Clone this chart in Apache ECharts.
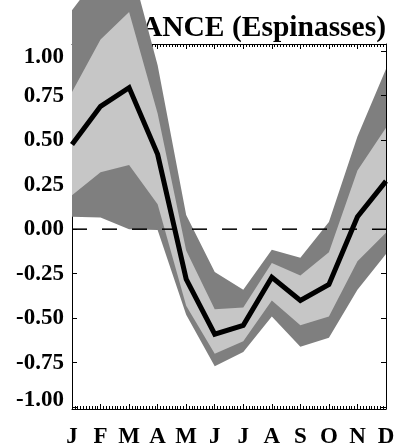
<!DOCTYPE html>
<html>
<head>
<meta charset="utf-8">
<script src="https://cdn.jsdelivr.net/npm/echarts@6/dist/echarts.min.js"></script>
<style>
html,body{margin:0;padding:0;background:#fff;}
#chart{width:396px;height:446px;}
</style>
</head>
<body>
<div id="chart"></div>
<script>
const months = ['J','F','M','A','M','J','J','A','S','O','N','D'];
const meanLine   = [0.475, 0.69, 0.795, 0.42, -0.28, -0.59, -0.54, -0.27, -0.40, -0.31, 0.07, 0.27];
const upperDark  = [1.23, 1.44, 1.52, 0.92, 0.08, -0.24, -0.34, -0.115, -0.16, 0.04, 0.52, 0.90];
const upperLight = [0.77, 1.065, 1.22, 0.65, -0.12, -0.45, -0.44, -0.19, -0.26, -0.13, 0.33, 0.57];
const lowerLight = [0.19, 0.32, 0.36, 0.14, -0.43, -0.70, -0.63, -0.40, -0.54, -0.49, -0.18, -0.02];
const lowerDark  = [0.07, 0.065, 0.0, -0.005, -0.48, -0.77, -0.69, -0.49, -0.66, -0.61, -0.34, -0.14];
const yTicks = [-1, -0.75, -0.5, -0.25, 0, 0.25, 0.5, 0.75, 1];

const FONT = 'Liberation Serif';
const DARK = '#7f7f7f';
const LIGHT = '#c6c6c6';
const labelFont = { fontFamily: FONT, fontWeight: 'bold', fontSize: 23, color: '#000' };

const pts = arr => arr.map((v, i) => [i, v]);

// Band polygon between two boundary arrays, drawn through the axis scales
function bandSeries(name, lo, hi, color, z) {
  return {
    name: name, type: 'custom', clip: false, z: z, silent: true,
    data: lo.map((v, i) => [i, v, hi[i]]),
    renderItem: function (params, api) {
      if (params.dataIndexInside !== 0) return null;
      const n = params.dataInsideLength;
      const top = [], bot = [];
      for (let j = 0; j < n; j++) {
        const x = api.value(0, j);
        bot.push(api.coord([x, api.value(1, j)]));
        top.push(api.coord([x, api.value(2, j)]));
      }
      return {
        type: 'polygon',
        shape: { points: top.concat(bot.reverse()) },
        style: { fill: color, stroke: null }
      };
    }
  };
}

const axisCommon = {
  axisLine: { show: true, onZero: false, lineStyle: { color: '#000', width: 1 } },
  splitLine: { show: false }
};

const chart = echarts.init(document.getElementById('chart'), null, { renderer: 'canvas' });
chart.setOption({
  animation: false,
  backgroundColor: '#fff',
  title: {
    text: 'FRANCE (Espinasses)', right: 10, top: 13, padding: 0, z: 1,
    textStyle: { fontFamily: FONT, fontWeight: 'bold', fontSize: 29.5, color: '#000' }
  },
  grid: { left: 72, right: 10, top: 44, bottom: 37, containLabel: false, outerBoundsMode: 'none' },
  xAxis: [Object.assign({
    type: 'value', min: 0, max: 11, interval: 1, position: 'bottom',
    axisTick: { show: true, inside: true, length: 5, lineStyle: { color: '#000' } },
    minorTick: { show: true, splitNumber: 10, length: 3, lineStyle: { color: '#000' } },
    axisLabel: Object.assign({ margin: 17, formatter: v => months[Math.round(v)] || '' }, labelFont)
  }, axisCommon), Object.assign({
    type: 'value', min: 0, max: 11, interval: 1, position: 'top',
    axisTick: { show: true, inside: true, length: 5, lineStyle: { color: '#000' } },
    minorTick: { show: true, splitNumber: 10, length: 3, lineStyle: { color: '#000' } },
    axisLabel: { show: false }
  }, axisCommon)],
  yAxis: [Object.assign({
    type: 'value', min: -1.01, max: 1.04, position: 'left',
    axisTick: { show: true, inside: true, length: 5, customValues: yTicks, lineStyle: { color: '#000' } },
    axisLabel: Object.assign({
      margin: 8, customValues: yTicks,
      formatter: v => {
        const s = v.toFixed(2);
        if (v >= 0.999) return '{hi|' + s + '}';
        if (v <= -0.999) return '{lo|' + s + '}';
        return s;
      },
      rich: {
        hi: Object.assign({ padding: [12, 0, 0, 0] }, labelFont),
        lo: Object.assign({ padding: [0, 0, 14, 0] }, labelFont)
      }
    }, labelFont)
  }, axisCommon), Object.assign({
    type: 'value', min: -1.01, max: 1.04, position: 'right', z: 10,
    axisTick: { show: true, inside: true, length: 5, customValues: yTicks, lineStyle: { color: '#000' } },
    axisLabel: { show: false }
  }, axisCommon)],
  series: [
    bandSeries('outerBand', lowerDark, upperDark, DARK, 2),
    bandSeries('innerBand', lowerLight, upperLight, LIGHT, 3),
    {
      name: 'zero', type: 'line', data: [[0, 0], [11, 0]], symbol: 'none', z: 4, silent: true,
      lineStyle: { color: '#000', width: 1.5, type: [15, 15] }
    },
    {
      name: 'mean', type: 'line', data: pts(meanLine), symbol: 'none', z: 5, silent: true, clip: false,
      lineStyle: { color: '#000', width: 5, join: 'miter', cap: 'butt' }
    }
  ]
});
</script>
</body>
</html>
